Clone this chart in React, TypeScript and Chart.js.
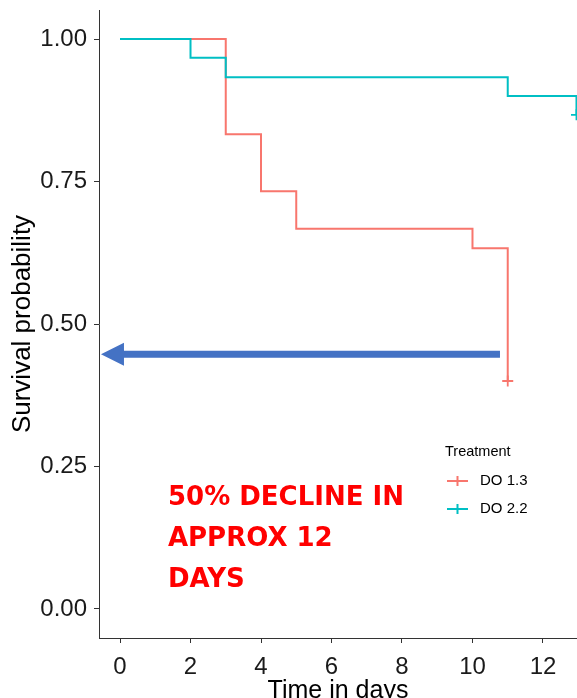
import React, { useEffect, useRef } from "react";
import { Chart, registerables } from "chart.js";

Chart.register(...registerables);

// ---- data ----
const seriesLabels = ["DO 1.3", "DO 2.2"];
const seriesColors = ["#F8766D", "#00BFC4"];
const do13Times = [0, 3, 4, 5, 10, 11];
const do13Surv = [1.0, 0.833, 0.733, 0.667, 0.633, 0.4];
const do22Times = [0, 2, 3, 11, 12.95];
const do22Surv = [1.0, 0.967, 0.933, 0.9, 0.867];
const do13CensorTimes = [11];
const do13CensorSurv = [0.4];
const do22CensorTimes = [12.95];
const do22CensorSurv = [0.867];
const xTickValues = [0, 2, 4, 6, 8, 10, 12];
const yTickValues = [0, 0.25, 0.5, 0.75, 1.0];
const legendTitle = "Treatment";
const xTitle = "Time in days";
const yTitle = "Survival probability";
const noteLines = ["50% DECLINE IN", "APPROX 12", "DAYS"];
const arrowStart = { x: 10.78, y: 0.447 };
const arrowEnd = { x: -0.54, y: 0.447 };
const noteAnchor = { x: 1.36, y: 0.1825 };

const toPoints = (xs: number[], ys: number[]) => xs.map((x, i) => ({ x, y: ys[i] }));

const overlayPlugin = {
  id: "overlay",
  afterDatasetsDraw(chart: any) {
    const ctx = chart.ctx as CanvasRenderingContext2D;
    const xs = chart.scales.x;
    const ys = chart.scales.y;
    ctx.save();

    // arrow
    const x0 = xs.getPixelForValue(arrowStart.x);
    const x1 = xs.getPixelForValue(arrowEnd.x);
    const ay = ys.getPixelForValue(arrowStart.y);
    const headLen = 23;
    const headHalf = 11.5;
    const shaftHalf = 3.5;
    ctx.fillStyle = "#4472C4";
    ctx.beginPath();
    ctx.moveTo(x0, ay - shaftHalf);
    ctx.lineTo(x1 + headLen, ay - shaftHalf);
    ctx.lineTo(x1 + headLen, ay - headHalf);
    ctx.lineTo(x1, ay);
    ctx.lineTo(x1 + headLen, ay + headHalf);
    ctx.lineTo(x1 + headLen, ay + shaftHalf);
    ctx.lineTo(x0, ay + shaftHalf);
    ctx.closePath();
    ctx.fill();

    // note text
    ctx.fillStyle = "#FF0000";
    ctx.font = "bold 26px 'DejaVu Sans'";
    ctx.textAlign = "left";
    ctx.textBaseline = "alphabetic";
    const nx = xs.getPixelForValue(noteAnchor.x);
    const ny = ys.getPixelForValue(noteAnchor.y);
    noteLines.forEach((line, i) => ctx.fillText(line, nx, ny + i * 41));

    // legend
    const lx = 445;
    ctx.fillStyle = "#000";
    ctx.font = "14.5px 'Liberation Sans'";
    ctx.textBaseline = "middle";
    ctx.fillText(legendTitle, lx, 452);
    seriesLabels.forEach((lab, i) => {
      const y = 481 + i * 28;
      ctx.strokeStyle = seriesColors[i];
      ctx.lineWidth = 2;
      ctx.beginPath();
      ctx.moveTo(447, y);
      ctx.lineTo(468, y);
      ctx.moveTo(457.5, y - 5);
      ctx.lineTo(457.5, y + 5);
      ctx.stroke();
      ctx.fillStyle = "#000";
      ctx.font = "15px 'Liberation Sans'";
      ctx.fillText(lab, 480, y);
    });
    ctx.restore();
  },
};

const zeroPad = (s: any) => {
  s.paddingTop = 0;
  s.paddingBottom = 0;
  s.paddingLeft = 0;
  s.paddingRight = 0;
};

export default function App() {
  const ref = useRef<HTMLCanvasElement | null>(null);
  useEffect(() => {
    if (!ref.current) return;
    const tickFont = { family: "'Liberation Sans', Arial, sans-serif", size: 24 };
    const titleFont = { family: "'Liberation Sans', Arial, sans-serif", size: 25 };
    const chart = new Chart(ref.current, {
      type: "line",
      data: {
        datasets: [
          {
            label: seriesLabels[0],
            data: toPoints(do13Times, do13Surv),
            borderColor: seriesColors[0],
            borderWidth: 2,
            stepped: true,
            pointRadius: 0,
            fill: false,
            order: 4,
          },
          {
            label: seriesLabels[1],
            data: toPoints(do22Times, do22Surv),
            borderColor: seriesColors[1],
            borderWidth: 2,
            stepped: true,
            pointRadius: 0,
            fill: false,
            order: 3,
          },
          {
            label: seriesLabels[0] + " censor",
            data: toPoints(do13CensorTimes, do13CensorSurv),
            showLine: false,
            pointStyle: "cross",
            pointRadius: 5.5,
            pointBorderWidth: 1.8,
            borderColor: seriesColors[0],
            order: 2,
          },
          {
            label: seriesLabels[1] + " censor",
            data: toPoints(do22CensorTimes, do22CensorSurv),
            showLine: false,
            pointStyle: "cross",
            pointRadius: 5.5,
            pointBorderWidth: 1.8,
            borderColor: seriesColors[1],
            order: 1,
          },
        ],
      },
      options: {
        animation: false,
        responsive: false,
        maintainAspectRatio: false,
        layout: { autoPadding: false, padding: { top: 10, left: 0, right: 0, bottom: 0 } },
        plugins: { legend: { display: false }, tooltip: { enabled: false } },
        scales: {
          x: {
            type: "linear",
            min: -0.596,
            max: 12.965,
            afterBuildTicks: (s: any) => {
              s.ticks = xTickValues.map((v) => ({ value: v }));
            },
            afterFit: (s: any) => {
              s.height = 60;
              zeroPad(s);
            },
            grid: { drawOnChartArea: false, drawTicks: true, tickLength: 5, color: "#333" },
            border: { display: true, color: "#333", width: 1 },
            ticks: { font: tickFont, color: "#1a1a1a", padding: 10, maxRotation: 0, autoSkip: false },
            title: { display: true, text: xTitle, font: titleFont, color: "#000", padding: { top: 0, bottom: -8 } },
          },
          y: {
            type: "linear",
            min: -0.0509,
            max: 1.0509,
            afterBuildTicks: (s: any) => {
              s.ticks = yTickValues.map((v) => ({ value: v }));
            },
            afterFit: (s: any) => {
              s.width = 99;
              zeroPad(s);
            },
            grid: { drawOnChartArea: false, drawTicks: true, tickLength: 5, color: "#333" },
            border: { display: true, color: "#333", width: 1 },
            ticks: {
              font: tickFont,
              color: "#1a1a1a",
              padding: 7,
              callback: (v: any) => Number(v).toFixed(2),
            },
            title: { display: true, text: yTitle, font: { ...titleFont, size: 26 }, color: "#000", padding: { top: 7, bottom: 0 } },
          },
        },
      },
      plugins: [overlayPlugin],
    });
    return () => chart.destroy();
  }, []);
  return (
    <div style={{ position: "absolute", left: 0, top: 0, width: 577, height: 698, background: "#fff" }}>
      <canvas ref={ref} width={577} height={698} style={{ display: "block" }} />
    </div>
  );
}
